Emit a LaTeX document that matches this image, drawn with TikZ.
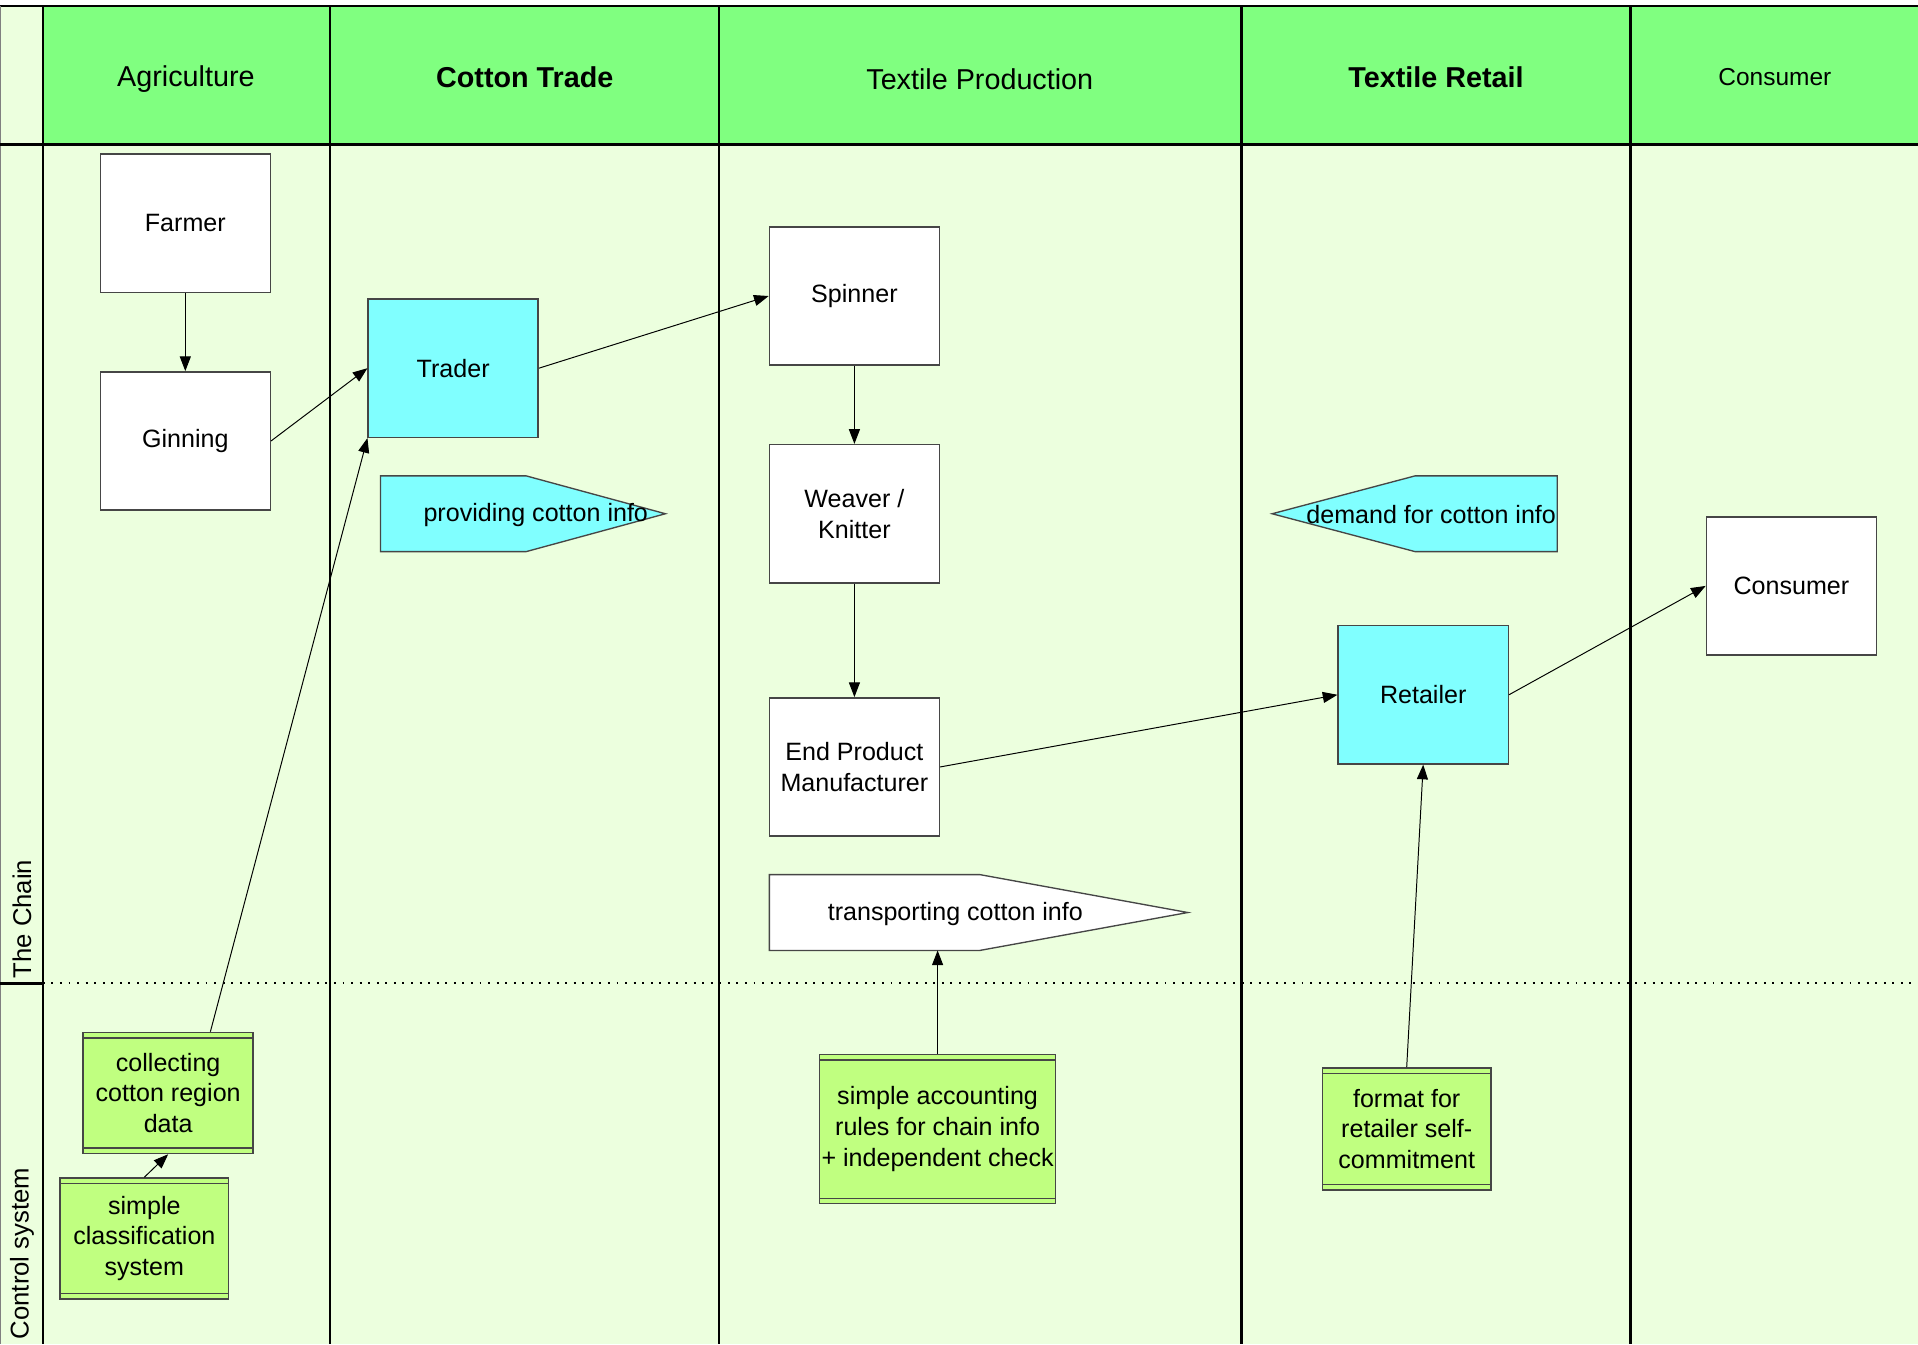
\documentclass[tikz,border=0pt]{standalone}
\usepackage{fontspec}
\setmainfont{Liberation Sans}
\usetikzlibrary{arrows.meta,calc}
\definecolor{hdr}{RGB}{128,255,128}
\definecolor{bg}{RGB}{236,255,222}
\definecolor{cy}{RGB}{128,255,255}
\definecolor{gbox}{RGB}{192,255,128}
\definecolor{bord}{RGB}{70,70,70}
\newcommand{\boxfont}{\fontsize{20.5}{25}\selectfont}
\newcommand{\hdrfont}{\fontsize{23.5}{28}\selectfont}
\newcommand{\rowfont}{\fontsize{21}{25}\selectfont}
\tikzset{
  box/.style={draw=bord, line width=1.2pt, fill=white, minimum width=139pt,
    minimum height=113pt, inner sep=0pt, align=center, font=\boxfont},
  cbox/.style={box, fill=cy},
  gbx/.style={draw=bord, line width=1.2pt, fill=gbox, inner sep=0pt,
    align=center, font=\boxfont,
    path picture={
      \draw[bord, line width=1pt] ([yshift=-4.5pt]path picture bounding box.north west) -- ([yshift=-4.5pt]path picture bounding box.north east);
      \draw[bord, line width=1pt] ([yshift=4.5pt]path picture bounding box.south west) -- ([yshift=4.5pt]path picture bounding box.south east);
    }},
  arr/.style={-{Triangle[length=12pt,width=9pt]}, line width=0.8pt},
  hdrlbl/.style={font=\hdrfont, inner sep=0pt},
  sig/.style={draw=bord, line width=1.1pt},
  sigtxt/.style={font=\boxfont, inner sep=0pt},
  coll/.style={line width=2pt},
}
\begin{document}
\begin{tikzpicture}[x=1pt,y=-1pt]
\useasboundingbox (0,0) rectangle (1568,1098.8);
% background
\fill[white] (0,0) rectangle (1568,1098.8);
\fill[bg] (0,5) rectangle (1568,1098.8);
\fill[hdr] (35,5) rectangle (1568,118);
% grid lines
\draw[line width=1.5pt] (0,5) -- (1568,5);
\draw[line width=0.8pt, gray] (0.6,5) -- (0.6,1098.8);
\foreach \x in {35,270,588,1015,1333} \draw[coll] (\x,5) -- (\x,1098.8);
\draw[line width=3pt] (0,118) -- (1568,118);
\draw[line width=2pt] (0,804) -- (35,804);
\draw[line width=1.6pt, dash pattern=on 1.6pt off 5.4pt] (35,804) -- (1568,804);
% headers
\node[hdrlbl] (h1) at (152,64.5) {Agriculture};
\node[hdrlbl, font=\hdrfont\bfseries] (h2) at (429,63) {Cotton Trade};
\node[hdrlbl] (h3) at (801,64.5) {Textile Production};
\node[hdrlbl, font=\hdrfont\bfseries] (h4) at (1174,63) {Textile Retail};
\node[hdrlbl, font=\fontsize{20}{24}\selectfont] (h5) at (1451,63) {Consumer};
% row labels
\node[rotate=90, anchor=west, font=\rowfont, inner sep=0pt] (rchain) at (18,800) {The Chain};
\node[rotate=90, anchor=west, font=\rowfont, inner sep=0pt] (rctrl) at (18,1095) {Control system};
% signal shapes
\draw[sig, fill=cy] (311,389) -- (430,389) -- (544,420) -- (430,451) -- (311,451) -- cycle;
\node[sigtxt] (prov) at (438,421) {providing cotton info};
\draw[sig, fill=white] (629,715) -- (801,715) -- (971,746) -- (801,777) -- (629,777) -- cycle;
\node[sigtxt] (trans) at (781,747) {transporting cotton info};
\coordinate (transS) at (766.5,777);
\draw[sig, fill=cy] (1040,420) -- (1157,389) -- (1273,389) -- (1273,451) -- (1157,451) -- cycle;
\node[sigtxt] (demand) at (1170,421) {demand for cotton info};
% chain boxes
\node[box] (farmer) at (151.5,182.5) {Farmer};
\node[box] (ginning) at (151.5,360.5) {Ginning};
\node[cbox] (trader) at (370.5,301) {Trader};
\node[box] (spinner) at (698.5,242) {Spinner};
\node[box] (weaver) at (698.5,420) {Weaver /\\Knitter};
\node[box] (epm) at (698.5,627) {End Product\\Manufacturer};
\node[cbox] (retailer) at (1163.5,568) {Retailer};
\node[box] (consumer) at (1464.5,479) {Consumer};
% control boxes
\node[gbx, minimum width=139pt, minimum height=99pt] (collect) at (137.5,893.5) {collecting\\cotton region\\data};
\node[gbx, minimum width=138pt, minimum height=99pt] (classif) at (118,1012.5) {simple\\classification\\system};
\node[gbx, minimum width=193pt, minimum height=122pt] (account) at (766.5,923) {simple accounting\\rules for chain info\\+ independent check};
\node[gbx, minimum width=138pt, minimum height=100pt] (fmt) at (1150,923) {format for\\retailer self-\\commitment};
% connectors
\draw[arr] (farmer) -- (ginning);
\draw[arr] (ginning.east) -- (trader.west);
\draw[arr] (trader.east) -- (spinner.west);
\draw[arr] (spinner) -- (weaver);
\draw[arr] (weaver) -- (epm);
\draw[arr] (epm.east) -- (retailer.west);
\draw[arr] (retailer.east) -- (consumer.west);
\draw[arr] ([xshift=34.5pt]collect.north) -- (trader.south west);
\draw[arr] (classif.north) -- (collect.south);
\draw[arr] (account.north) -- (transS);
\draw[arr] (fmt.north) -- (retailer.south);
\end{tikzpicture}
\end{document}
